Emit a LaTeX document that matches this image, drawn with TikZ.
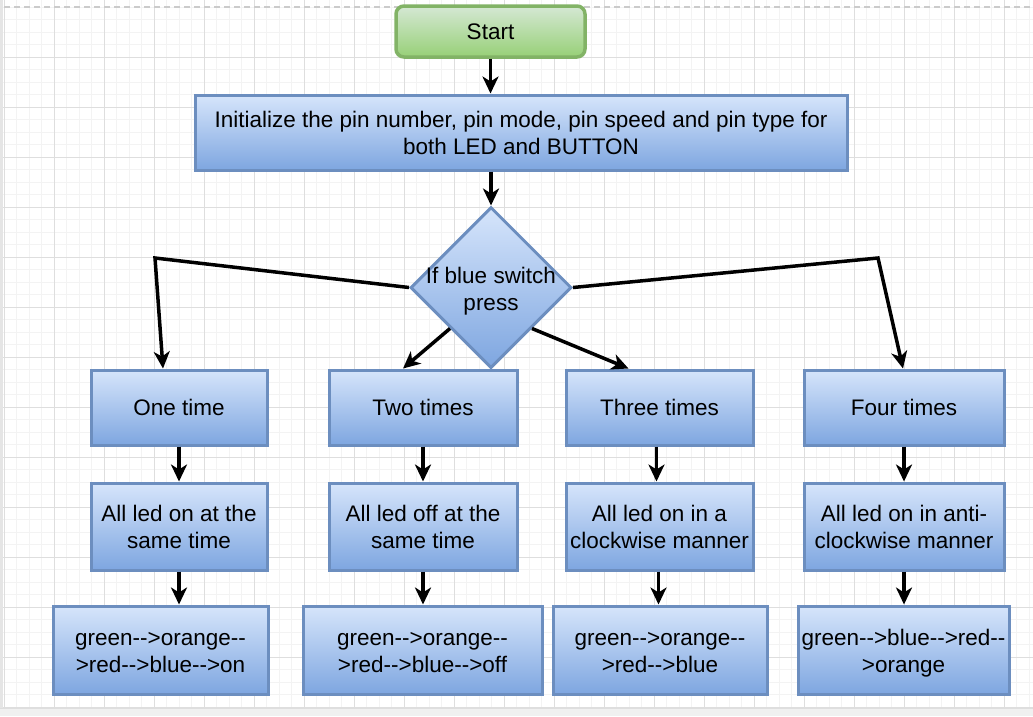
\documentclass[tikz,border=0pt]{standalone}
\usepackage{fontspec}
\setmainfont{Liberation Sans}
\usetikzlibrary{shapes.geometric,arrows.meta,calc}
\definecolor{bluetop}{HTML}{D6E5FB}
\definecolor{bluebot}{HTML}{7EA6E0}
\definecolor{blueline}{HTML}{6C8EBF}
\definecolor{greentop}{HTML}{D5E8D4}
\definecolor{greenbot}{HTML}{97D077}
\definecolor{greenline}{HTML}{82B366}
\definecolor{gridminor}{HTML}{F3F3F3}
\definecolor{gridmajor}{HTML}{DEDEDE}
\tikzset{
  bluebox/.style={draw=blueline, line width=3pt, top color=bluetop, bottom color=bluebot,
    align=center, inner sep=0pt, font=\fontsize{22.5}{27}\selectfont},
  startbox/.style={draw=greenline, line width=3.5pt, rounded corners=8pt, top color=greentop,
    bottom color=greenbot, align=center, inner sep=0pt, font=\fontsize{22.5}{27}\selectfont},
  decbox/.style={diamond, aspect=1, draw=blueline, line width=3pt, top color=bluetop,
    bottom color=bluebot, inner sep=0pt, minimum width=161pt, minimum height=161pt},
  dtext/.style={align=center, inner sep=0pt, font=\fontsize{22.5}{27}\selectfont},
  lowtext/.style={text height=48pt, text depth=4pt},
  arr/.style={draw=black, line width=3.5pt, -{Stealth[length=17pt,width=16pt,inset=5pt]}},
}
\begin{document}
\begin{tikzpicture}[x=1pt,y=-1pt]
\useasboundingbox (0,0) rectangle (1033,716);
\fill[white] (0,0) rectangle (1033,716);
% grid
\foreach \x in {4,16.5,...,1033} \draw[gridminor, line width=1pt] (\x,0) -- (\x,708);
\foreach \y in {-5.5,7,...,708} \draw[gridminor, line width=1pt] (0,\y) -- (1033,\y);
\foreach \x in {4,54,...,1033} \draw[gridmajor, line width=1pt] (\x,0) -- (\x,708);
\foreach \y in {57,107,...,708} \draw[gridmajor, line width=1pt] (0,\y) -- (1033,\y);
\draw[gridmajor!80!gray, line width=1.5pt, dash pattern=on 6pt off 4pt] (4,7) -- (1033,7);
\fill[gray!12] (0,708) rectangle (1033,716);
\draw[gridmajor, line width=1pt] (0,708.5) -- (1033,708.5);
\fill[gray!20] (0,0) rectangle (3,708);
% nodes
\node[startbox, minimum width=189pt, minimum height=51pt] (start) at (490.5,31.5) {Start};
\node[bluebox, minimum width=652pt, minimum height=75pt] (init) at (521,132.5)
  {Initialize the pin number, pin mode, pin speed and pin type for\\both LED and BUTTON};
\node[decbox] (dia) at (491,287.5) {};
\node[dtext] (diat) at (491,291) {If blue switch\\press};
\node[bluebox, minimum width=176pt, minimum height=75pt] (one) at (179,407.5) {One time};
\node[bluebox, minimum width=188pt, minimum height=75pt] (two) at (423,407.5) {Two times};
\node[bluebox, minimum width=187pt, minimum height=75pt] (three) at (659.5,407.5) {Three times};
\node[bluebox, minimum width=200pt, minimum height=75pt] (four) at (904,407.5) {Four times};
\node[bluebox, minimum width=176pt, minimum height=87pt] (a1) at (179,526.5) {All led on at the\\same time};
\node[bluebox, minimum width=188pt, minimum height=87pt] (a2) at (423,526.5) {All led off at the\\same time};
\node[bluebox, minimum width=187pt, minimum height=87pt] (a3) at (659.5,526.5) {All led on in a\\clockwise manner};
\node[bluebox, minimum width=200pt, minimum height=87pt] (a4) at (904,526.5) {All led on in anti-\\clockwise manner};
\node[bluebox, lowtext, minimum width=215pt, minimum height=88pt] (g1) at (160.5,650) {green-{}->orange-{}-\\>red-{}->blue-{}->on};
\node[bluebox, lowtext, minimum width=239pt, minimum height=88pt] (g2) at (422.5,650) {green-{}->orange-{}-\\>red-{}->blue-{}->off};
\node[bluebox, lowtext, minimum width=214pt, minimum height=88pt] (g3) at (660,650) {green-{}->orange-{}-\\>red-{}->blue};
\node[bluebox, lowtext, minimum width=211pt, minimum height=88pt] (g4) at (903.5,650) {green-{}->blue-{}->red-{}-\\>orange};
% bend points
\coordinate (k1) at (155,258);
\coordinate (k4) at (878,258);
% connectors
\draw[arr] (start.south) -- (start.south |- init.north);
\draw[arr] (init.south -| dia.north) -- (dia.north);
\draw[arr, line join=miter] (dia.west) -- (k1) -- ([xshift=-16pt]one.north);
\draw[arr, line join=miter] (dia.east) -- (k4) -- ([xshift=-1pt]four.north);
\draw[arr] (dia.south west) -- ([xshift=-20pt]two.north);
\draw[arr] (dia.south east) -- ([xshift=-31pt]three.north);
\draw[arr] (one.south) -- (one.south |- a1.north);
\draw[arr] (two.south) -- (two.south |- a2.north);
\draw[arr] ([xshift=-3pt]three.south) -- ([xshift=-3pt]three.south |- a3.north);
\draw[arr] (four.south) -- (four.south |- a4.north);
\draw[arr] (a1.south) -- (a1.south |- g1.north);
\draw[arr] (a2.south) -- (a2.south |- g2.north);
\draw[arr] ([xshift=-1pt]a3.south) -- ([xshift=-1pt]a3.south |- g3.north);
\draw[arr] (a4.south) -- (a4.south |- g4.north);
\end{tikzpicture}
\end{document}
